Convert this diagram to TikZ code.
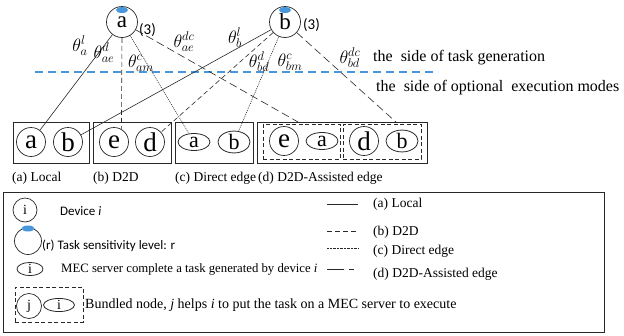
\RequirePackage{fix-cm}
\documentclass[tikz,border=0pt]{standalone}
\usepackage{fontspec}
\setmainfont{Liberation Serif}
\newfontfamily\calib{Carlito}
\usetikzlibrary{shapes.geometric}
\definecolor{blu}{RGB}{72,150,220}
\definecolor{ln}{RGB}{40,40,40}
\tikzset{
  topdev/.style={circle,draw=ln,line width=0.7pt,minimum size=31pt,inner sep=0pt,font=\fontsize{23}{23}\selectfont},
  dev/.style={circle,draw=ln,line width=0.7pt,minimum size=29pt,inner sep=0pt,font=\fontsize{27}{27}\selectfont},
  mec/.style={ellipse,draw=ln,line width=0.8pt,minimum width=32pt,minimum height=17pt,inner sep=0pt,font=\fontsize{22}{22}\selectfont},
  frame/.style={draw=ln,line width=0.7pt,inner sep=0pt,outer sep=0pt},
  bund/.style={draw=ln,dashed,dash pattern=on 4pt off 2.5pt,line width=0.7pt,inner sep=0pt,outer sep=0pt},
  lab/.style={font=\fontsize{16}{16}\selectfont,inner sep=0pt},
  captxt/.style={font=\fontsize{13.5}{13.5}\selectfont,anchor=west,inner sep=0pt},
  sens/.style={font=\calib\fontsize{13}{13}\selectfont,anchor=west,inner sep=0pt},
  th/.style={font=\fontsize{18}{18}\selectfont,inner sep=0pt},
  local/.style={draw=ln,line width=0.6pt},
  dtd/.style={draw=ln,line width=0.6pt,dash pattern=on 5pt off 3pt},
  direct/.style={draw=ln,line width=0.6pt,dash pattern=on 1pt off 1pt},
  assist/.style={draw=ln,line width=0.6pt,dash pattern=on 8pt off 4pt},
}
\begin{document}
\begin{tikzpicture}[x=1pt,y=-1pt]
\useasboundingbox (0,0) rectangle (624,335);
% top devices
\node[topdev] (A) at (122,22) {a};
\fill[blu] (122,10) ellipse (6pt and 3pt);
\node[sens,font=\calib\fontsize{15}{15}\selectfont] (A3) at (139,30) {(3)};
\node[topdev] (B) at (285,22) {b};
\fill[blu] (285,10) ellipse (6pt and 3pt);
\node[sens,font=\calib\fontsize{15}{15}\selectfont] (B3) at (303,25) {(3)};
% separator
\draw[blu,line width=1.8pt,dash pattern=on 8pt off 5pt] (35,72) -- (438,72);
\node[lab,anchor=west] (t1) at (373,58) {the\ \ side of task generation};
\node[lab,anchor=west] (t2) at (376,88) {the\ \ side of optional\ \ execution modes};
% boxes
\node[frame,minimum width=76pt,minimum height=41pt] (box1) at (51,142.5) {};
\node[frame,minimum width=78pt,minimum height=41pt] (box2) at (132,142.5) {};
\node[frame,minimum width=78pt,minimum height=41pt] (box3) at (214,142.5) {};
\node[frame,minimum width=170pt,minimum height=41pt] (box4) at (342,142.5) {};
\node[bund,minimum width=77pt,minimum height=35pt] (bun1) at (301.5,141.5) {};
\node[bund,minimum width=78pt,minimum height=35pt] (bun2) at (382,141.5) {};
\node[dev] (a1) at (31,142) {a};
\node[dev] (b1) at (68,142) {b};
\node[dev] (e2) at (114,142) {e};
\node[dev] (d2) at (150,142) {d};
\node[mec] (a3) at (194,142) {a};
\node[mec] (b3) at (234,142) {b};
\node[dev] (e4) at (284,141) {e};
\node[mec] (a4) at (322,141) {a};
\node[dev] (d4) at (364,141) {d};
\node[mec] (b4) at (402,141) {b};
\coordinate (u2) at (397,123);
% connectors
\draw[local] (A) -- (a1);
\draw[local] (B) -- (b1);
\draw[dtd] (A.south) -- (e2.60);
\draw[dtd] (B) -- (d2);
\draw[direct] (A) -- (a3);
\draw[direct] (B) -- (b3);
\draw[assist] (A) -- (bun1.north);
\draw[assist] (B) -- (u2);
% theta labels
\node[th] (l1) at (80,46) {$\theta_{a}^{l}$};
\node[th] (l2) at (104,53) {$\theta_{ae}^{d}$};
\node[th] (l3) at (141,63) {$\theta_{am}^{c}$};
\node[th] (l4) at (184,42) {$\theta_{ae}^{dc}$};
\node[th] (l5) at (235,38) {$\theta_{b}^{l}$};
\node[th] (l6) at (259,62) {$\theta_{bd}^{d}$};
\node[th] (l7) at (290,62) {$\theta_{bm}^{c}$};
\node[th] (l8) at (350,58) {$\theta_{bd}^{dc}$};
% captions
\node[captxt] (c1) at (12,178) {(a) Local};
\node[captxt] (c2) at (93,178) {(b) D2D};
\node[captxt] (c3) at (175,178) {(c) Direct edge};
\node[captxt] (c4) at (258,178) {(d) D2D-Assisted edge};
% legend
\draw[draw=ln,line width=1pt] (3,192) rectangle (604,332);
\node[circle,draw=ln,line width=0.7pt,minimum size=24pt,inner sep=0pt,font=\fontsize{14}{14}\selectfont] (li) at (25,210) {i};
\node[sens] (lt1) at (60,211) {Device \textit{i}};
\node[circle,draw=ln,line width=0.7pt,minimum size=27pt,inner sep=0pt] (lr) at (28,241) {};
\fill[blu] (28,228.5) ellipse (6.5pt and 3pt);
\node[sens] (lt2) at (42,246) {(r) Task sensitivity level: r};
\node[ellipse,draw=ln,line width=0.8pt,minimum width=26pt,minimum height=12pt,inner sep=0pt,font=\fontsize{14}{14}\selectfont] (lm) at (30,269) {i};
\node[captxt,font=\fontsize{12.75}{12.75}\selectfont] (lt3) at (61,269) {MEC server complete a task generated by device \textit{i}};
\node[bund,minimum width=68pt,minimum height=35pt] (lb) at (49,304.5) {};
\node[circle,draw=ln,line width=0.7pt,minimum size=25pt,inner sep=0pt,font=\fontsize{14}{14}\selectfont] (lj) at (29,306) {j};
\node[ellipse,draw=ln,line width=0.8pt,minimum width=31pt,minimum height=12pt,inner sep=0pt,font=\fontsize{14}{14}\selectfont] (li2) at (59,305) {i};
\node[captxt,font=\fontsize{14}{14}\selectfont] (lt4) at (85,305) {Bundled node, \textit{j} helps \textit{i} to put the task on a MEC server to execute};
% line legend
\coordinate (p1) at (327,204); \coordinate (q1) at (358,204);
\coordinate (p2) at (327,231); \coordinate (q2) at (358,231);
\coordinate (p3) at (327,248); \coordinate (q3) at (358,248);
\coordinate (p4) at (327,269); \coordinate (q4) at (358,269);
\draw[local] (p1) -- (q1);
\draw[dtd] (p2) -- (q2);
\draw[direct,dash pattern=on 0.6pt off 0.8pt] (p3) -- (q3);
\draw[draw=ln,line width=0.6pt,dash pattern=on 17pt off 5pt on 5pt off 10pt] (p4) -- (q4);
\node[captxt] (r1) at (373,204) {(a) Local};
\node[captxt] (r2) at (373,232) {(b) D2D};
\node[captxt] (r3) at (373,251) {(c) Direct edge};
\node[captxt] (r4) at (373,274) {(d) D2D-Assisted edge};
\end{tikzpicture}
\end{document}
